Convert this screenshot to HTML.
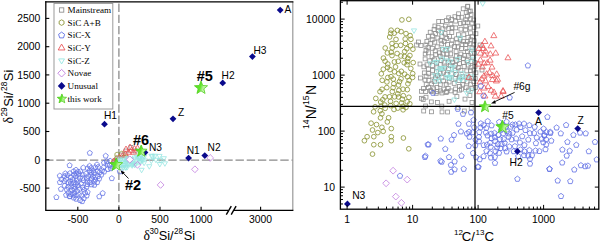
<!DOCTYPE html>
<html><head><meta charset="utf-8"><style>
html,body{margin:0;padding:0;background:#fff;}
svg{display:block;}
</style></head><body>
<svg width="600" height="242" viewBox="0 0 600 242">

<defs>
 <polygon id="pent" points="0.00,-2.85 2.71,-0.88 1.68,2.31 -1.68,2.31 -2.71,-0.88" fill="none" stroke="#5f6fe4" stroke-width="0.8"/>
 <polygon id="pentL" points="0.00,-2.70 2.57,-0.83 1.59,2.18 -1.59,2.18 -2.57,-0.83" fill="none" stroke="#6676e6" stroke-width="0.8"/>
 <polygon id="hexo" points="0.00,-2.50 2.17,-1.25 2.17,1.25 0.00,2.50 -2.17,1.25 -2.17,-1.25" fill="none" stroke="#8d9638" stroke-width="0.8"/>
 <circle id="circo" r="2.35" fill="none" stroke="#8d9638" stroke-width="0.85"/>
 <rect id="sq" x="-1.95" y="-1.95" width="3.9" height="3.9" fill="none" stroke="#909090" stroke-width="0.8"/>
 <polygon id="tri" points="0.00,-3.50 3.03,1.75 -3.03,1.75" fill="none" stroke="#ea5558" stroke-width="0.8"/>
 <polygon id="itri" points="0.00,3.00 -2.60,-1.50 2.60,-1.50" fill="none" stroke="#97e6e2" stroke-width="0.8"/>
 <polygon id="pdia" points="0,-3.4 3.4,0 0,3.4 -3.4,0" fill="none" stroke="#c27ee0" stroke-width="0.8"/>
 <polygon id="ndia" points="0,-3.4 3.4,0 0,3.4 -3.4,0" fill="#0a0a8c"/>
 <linearGradient id="sg" x1="0" y1="0" x2="1" y2="0.3">
  <stop offset="0" stop-color="#55e01e"/><stop offset="0.55" stop-color="#62e52c"/><stop offset="0.75" stop-color="#b8f29a"/><stop offset="1" stop-color="#d6f7c4"/>
 </linearGradient>
</defs>

<rect width="600" height="242" fill="#fff"/>
<line x1="45.8" y1="160.1" x2="292.8" y2="160.1" stroke="#8a8a8a" stroke-width="1.3" stroke-dasharray="8.4,2.8" stroke-dashoffset="0.7"/>
<line x1="118.9" y1="1.8" x2="118.9" y2="210.3" stroke="#8a8a8a" stroke-width="1.3" stroke-dasharray="8.4,2.8" stroke-dashoffset="-1.7"/>
<use href="#pentL" x="66.1" y="195.1"/><use href="#pentL" x="102.2" y="170.3"/><use href="#pentL" x="86.8" y="178.4"/><use href="#pentL" x="84.0" y="189.8"/><use href="#pentL" x="110.1" y="160.9"/><use href="#pentL" x="59.9" y="182.3"/><use href="#pentL" x="70.8" y="177.3"/><use href="#pentL" x="83.5" y="180.4"/><use href="#pentL" x="95.3" y="167.4"/><use href="#pentL" x="65.3" y="173.5"/><use href="#pentL" x="75.8" y="184.2"/><use href="#pentL" x="87.4" y="184.3"/><use href="#pentL" x="68.3" y="182.6"/><use href="#pentL" x="79.9" y="178.0"/><use href="#pentL" x="87.6" y="192.2"/><use href="#pentL" x="88.3" y="176.1"/><use href="#pentL" x="60.9" y="189.1"/><use href="#pentL" x="107.8" y="169.3"/><use href="#pentL" x="91.6" y="178.8"/><use href="#pentL" x="73.9" y="182.6"/><use href="#pentL" x="91.1" y="168.0"/><use href="#pentL" x="78.9" y="174.1"/><use href="#pentL" x="73.1" y="194.9"/><use href="#pentL" x="64.7" y="185.8"/><use href="#pentL" x="99.2" y="178.7"/><use href="#pentL" x="76.9" y="179.5"/><use href="#pentL" x="59.8" y="175.8"/><use href="#pentL" x="87.7" y="168.4"/><use href="#pentL" x="66.8" y="189.7"/><use href="#pentL" x="71.2" y="186.8"/><use href="#pentL" x="81.1" y="183.7"/><use href="#pentL" x="76.0" y="195.6"/><use href="#pentL" x="76.2" y="199.0"/><use href="#pentL" x="83.3" y="167.7"/><use href="#pentL" x="69.9" y="173.3"/><use href="#pentL" x="71.9" y="190.0"/><use href="#pentL" x="110.7" y="168.5"/><use href="#pentL" x="77.9" y="171.8"/><use href="#pentL" x="78.0" y="185.4"/><use href="#pentL" x="74.3" y="192.6"/><use href="#pentL" x="80.1" y="200.3"/><use href="#pentL" x="72.9" y="179.6"/><use href="#pentL" x="114.1" y="164.3"/><use href="#pentL" x="76.0" y="169.9"/><use href="#pentL" x="76.0" y="173.3"/><use href="#pentL" x="77.6" y="182.4"/><use href="#pentL" x="91.6" y="184.6"/><use href="#pentL" x="86.7" y="195.7"/><use href="#pentL" x="104.0" y="162.8"/><use href="#pentL" x="112.9" y="166.9"/><use href="#pentL" x="64.5" y="181.2"/><use href="#pentL" x="109.7" y="165.5"/><use href="#pentL" x="98.0" y="167.1"/><use href="#pentL" x="89.9" y="182.3"/><use href="#pentL" x="95.5" y="177.1"/><use href="#pentL" x="74.2" y="186.7"/><use href="#pentL" x="79.7" y="189.0"/><use href="#pentL" x="70.9" y="183.5"/><use href="#pentL" x="73.8" y="197.8"/><use href="#pentL" x="83.9" y="198.3"/><use href="#pentL" x="92.9" y="176.7"/><use href="#pentL" x="94.4" y="185.0"/><use href="#pentL" x="80.4" y="171.5"/><use href="#pentL" x="91.3" y="172.6"/><use href="#pentL" x="75.9" y="176.3"/><use href="#pentL" x="86.7" y="186.7"/><use href="#pentL" x="94.0" y="181.8"/><use href="#pentL" x="81.7" y="195.7"/><use href="#pentL" x="89.6" y="166.0"/><use href="#pentL" x="82.7" y="174.5"/><use href="#pentL" x="98.0" y="176.4"/><use href="#pentL" x="68.1" y="187.0"/><use href="#pentL" x="68.3" y="192.7"/><use href="#pentL" x="94.1" y="172.9"/><use href="#pentL" x="103.5" y="167.6"/><use href="#pentL" x="93.2" y="170.6"/><use href="#pentL" x="99.6" y="172.4"/><use href="#pentL" x="64.5" y="176.2"/><use href="#pentL" x="65.9" y="179.0"/><use href="#pentL" x="106.7" y="161.4"/><use href="#pentL" x="69.8" y="196.5"/><use href="#pentL" x="82.7" y="187.4"/><use href="#pentL" x="67.4" y="175.1"/><use href="#pentL" x="77.1" y="191.0"/><use href="#pentL" x="87.2" y="181.6"/><use href="#pentL" x="101.3" y="174.8"/><use href="#pentL" x="89.7" y="170.7"/><use href="#pentL" x="97.2" y="182.4"/><use href="#pentL" x="90.9" y="175.0"/><use href="#pentL" x="85.1" y="192.9"/><use href="#pentL" x="86.0" y="173.7"/><use href="#pentL" x="97.0" y="164.6"/><use href="#pentL" x="73.6" y="171.3"/><use href="#pentL" x="107.4" y="164.0"/><use href="#pentL" x="74.2" y="189.2"/><use href="#pentL" x="97.4" y="171.1"/><use href="#pentL" x="61.5" y="179.3"/><use href="#pentL" x="104.2" y="171.7"/><use href="#pentL" x="95.2" y="179.7"/><use href="#pentL" x="78.9" y="194.7"/><use href="#pentL" x="70.3" y="180.9"/><use href="#pentL" x="70.7" y="194.1"/><use href="#pentL" x="82.7" y="178.1"/><use href="#pentL" x="82.2" y="201.4"/><use href="#pentL" x="89.8" y="153.0"/><use href="#pentL" x="105.7" y="155.9"/><use href="#pentL" x="69.6" y="165.4"/><use href="#pentL" x="56.4" y="197.3"/><use href="#pentL" x="111.8" y="178.4"/><use href="#pentL" x="119.8" y="171.6"/><use href="#pentL" x="69.6" y="196.3"/><use href="#pentL" x="99.3" y="196.6"/><use href="#pentL" x="102.7" y="193.2"/><use href="#pentL" x="73.9" y="174.7"/>
<use href="#sq" x="131.0" y="147.5"/><use href="#sq" x="126.0" y="151.0"/><use href="#sq" x="121.0" y="155.0"/><use href="#sq" x="135.0" y="151.0"/>
<use href="#hexo" x="116.9" y="158.0"/><use href="#hexo" x="118.4" y="158.6"/><use href="#hexo" x="114.2" y="161.2"/><use href="#hexo" x="117.1" y="154.6"/><use href="#hexo" x="125.9" y="157.2"/><use href="#hexo" x="124.0" y="157.2"/><use href="#hexo" x="121.7" y="153.7"/>
<use href="#tri" x="113.5" y="161.5"/><use href="#tri" x="116.5" y="159.5"/><use href="#tri" x="119.5" y="157.5"/><use href="#tri" x="122.5" y="156.0"/><use href="#tri" x="125.5" y="154.5"/><use href="#tri" x="128.5" y="152.5"/><use href="#tri" x="131.5" y="150.5"/><use href="#tri" x="134.5" y="149.0"/><use href="#tri" x="126.0" y="149.5"/><use href="#tri" x="130.0" y="147.5"/><use href="#tri" x="121.0" y="159.5"/><use href="#tri" x="133.5" y="152.5"/><use href="#tri" x="137.5" y="148.5"/>
<polygon points="118,159 130,157 142,157 148,158 144,163 134,167 122,168 118,167" fill="#c4f3ee"/>
<use href="#itri" x="134.8" y="164.9"/><use href="#itri" x="118.8" y="161.6"/><use href="#itri" x="142.3" y="157.4"/><use href="#itri" x="130.7" y="159.0"/><use href="#itri" x="132.7" y="162.9"/><use href="#itri" x="118.4" y="158.6"/><use href="#itri" x="125.5" y="167.0"/><use href="#itri" x="138.7" y="157.9"/><use href="#itri" x="139.5" y="157.7"/><use href="#itri" x="134.7" y="157.5"/><use href="#itri" x="123.7" y="158.6"/><use href="#itri" x="125.8" y="167.5"/><use href="#itri" x="132.6" y="164.1"/><use href="#itri" x="123.5" y="167.3"/><use href="#itri" x="142.1" y="159.6"/><use href="#itri" x="127.8" y="158.0"/><use href="#itri" x="126.1" y="163.2"/><use href="#itri" x="127.1" y="159.7"/><use href="#itri" x="140.1" y="161.8"/><use href="#itri" x="126.5" y="161.8"/><use href="#itri" x="137.0" y="156.7"/><use href="#itri" x="144.3" y="156.3"/><use href="#itri" x="127.9" y="162.9"/><use href="#itri" x="122.9" y="167.5"/><use href="#itri" x="123.3" y="165.1"/><use href="#itri" x="127.3" y="160.3"/><use href="#itri" x="132.2" y="165.3"/><use href="#itri" x="120.9" y="165.0"/><use href="#itri" x="120.5" y="160.1"/><use href="#itri" x="127.2" y="167.1"/><use href="#itri" x="144.1" y="162.7"/><use href="#itri" x="155.9" y="159.7"/><use href="#itri" x="160.2" y="160.2"/><use href="#itri" x="152.6" y="156.3"/><use href="#itri" x="140.1" y="158.2"/><use href="#itri" x="164.9" y="163.3"/><use href="#itri" x="163.8" y="158.2"/><use href="#itri" x="151.3" y="160.7"/><use href="#itri" x="159.5" y="155.9"/><use href="#itri" x="151.5" y="155.7"/><use href="#itri" x="154.8" y="155.7"/><use href="#itri" x="159.8" y="164.0"/><use href="#itri" x="149.3" y="166.2"/><use href="#itri" x="141.6" y="169.8"/>
<polygon points="129.8,155.9 133.4,159.5 129.8,163.1 126.2,159.5" fill="#fff" stroke="#c27ee0" stroke-width="0.8"/>
<use href="#pdia" x="137.5" y="164.8"/><use href="#pdia" x="160.6" y="184.9"/><use href="#pdia" x="194.9" y="169.3"/><use href="#pdia" x="210.2" y="157.9"/>
<use href="#ndia" x="280.2" y="10.1"/><use href="#ndia" x="252.4" y="56.6"/><use href="#ndia" x="222.7" y="82.9"/><use href="#ndia" x="173.0" y="118.8"/><use href="#ndia" x="104.5" y="124.2"/><use href="#ndia" x="188.6" y="158.1"/><use href="#ndia" x="204.8" y="155.6"/><use href="#ndia" x="145.0" y="152.4"/>
<path d="M201.00,81.00 L202.74,85.50 L207.56,85.77 L203.82,88.82 L205.06,93.48 L201.00,90.87 L196.94,93.48 L198.18,88.82 L194.44,85.77 L199.26,85.50 Z" fill="url(#sg)" stroke="#4fcf1a" stroke-width="0.8" stroke-linejoin="miter"/>
<path d="M141.20,145.00 L142.77,149.04 L147.10,149.28 L143.74,152.02 L144.84,156.22 L141.20,153.87 L137.56,156.22 L138.66,152.02 L135.30,149.28 L139.63,149.04 Z" fill="url(#sg)" stroke="#4fcf1a" stroke-width="0.8" stroke-linejoin="miter"/>
<path d="M116.20,158.00 L117.92,162.43 L122.67,162.70 L118.98,165.70 L120.20,170.30 L116.20,167.72 L112.20,170.30 L113.42,165.70 L109.73,162.70 L114.48,162.43 Z" fill="url(#sg)" stroke="#4fcf1a" stroke-width="0.8" stroke-linejoin="miter"/>
<text x="284.4" y="12.6" font-family="Liberation Sans" font-size="10.2" font-weight="normal" text-anchor="start" fill="#000" >A</text>
<text x="253.4" y="54.0" font-family="Liberation Sans" font-size="10.2" font-weight="normal" text-anchor="start" fill="#000" >H3</text>
<text x="221.6" y="78.8" font-family="Liberation Sans" font-size="10.2" font-weight="normal" text-anchor="start" fill="#000" >H2</text>
<text x="178.0" y="115.9" font-family="Liberation Sans" font-size="10.2" font-weight="normal" text-anchor="start" fill="#000" >Z</text>
<text x="104.0" y="118.5" font-family="Liberation Sans" font-size="10.2" font-weight="normal" text-anchor="start" fill="#000" >H1</text>
<text x="186.7" y="153.8" font-family="Liberation Sans" font-size="10.2" font-weight="normal" text-anchor="start" fill="#000" >N1</text>
<text x="207.6" y="150.6" font-family="Liberation Sans" font-size="10.2" font-weight="normal" text-anchor="start" fill="#000" >N2</text>
<text x="149.0" y="151.0" font-family="Liberation Sans" font-size="10.2" font-weight="normal" text-anchor="start" fill="#000" >N3</text>
<text x="196.8" y="80.6" font-family="Liberation Sans" font-size="14.5" font-weight="bold" text-anchor="start" fill="#000" >#5</text>
<text x="133.0" y="145.3" font-family="Liberation Sans" font-size="14.5" font-weight="bold" text-anchor="start" fill="#000" >#6</text>
<text x="125.0" y="189.9" font-family="Liberation Sans" font-size="14.5" font-weight="bold" text-anchor="start" fill="#000" >#2</text>
<line x1="128.5" y1="178.5" x2="122.5" y2="172.3" stroke="#000" stroke-width="0.9"/>
<polygon points="120.6,170.4 124.9,172.3 122.3,174.6" fill="#000"/>
<line x1="292.8" y1="1.8" x2="292.8" y2="210.3" stroke="#999" stroke-width="1.2"/>
<line x1="45.2" y1="1.8" x2="293.4" y2="1.8" stroke="#000" stroke-width="1.2"/>
<line x1="45.8" y1="1.2" x2="45.8" y2="210.9" stroke="#000" stroke-width="1.3"/>
<line x1="45.8" y1="210.3" x2="293.4" y2="210.3" stroke="#000" stroke-width="1.3"/>
<rect x="228.2" y="208" width="5.6" height="5" fill="#fff"/>
<line x1="226.3" y1="214.6" x2="231.3" y2="206.2" stroke="#000" stroke-width="1.4"/>
<line x1="231.2" y1="214.6" x2="236.1" y2="206.2" stroke="#000" stroke-width="1.4"/>
<line x1="45.8" y1="18.4" x2="49.3" y2="18.4" stroke="#000" stroke-width="1.1"/>
<text x="40.4" y="22.1" font-family="Liberation Sans" font-size="10.4" font-weight="normal" text-anchor="end" fill="#000" >2500</text>
<line x1="45.8" y1="46.7" x2="49.3" y2="46.7" stroke="#000" stroke-width="1.1"/>
<text x="40.4" y="50.4" font-family="Liberation Sans" font-size="10.4" font-weight="normal" text-anchor="end" fill="#000" >2000</text>
<line x1="45.8" y1="74.9" x2="49.3" y2="74.9" stroke="#000" stroke-width="1.1"/>
<text x="40.4" y="78.6" font-family="Liberation Sans" font-size="10.4" font-weight="normal" text-anchor="end" fill="#000" >1500</text>
<line x1="45.8" y1="103.2" x2="49.3" y2="103.2" stroke="#000" stroke-width="1.1"/>
<text x="40.4" y="106.9" font-family="Liberation Sans" font-size="10.4" font-weight="normal" text-anchor="end" fill="#000" >1000</text>
<line x1="45.8" y1="131.5" x2="49.3" y2="131.5" stroke="#000" stroke-width="1.1"/>
<text x="40.4" y="135.2" font-family="Liberation Sans" font-size="10.4" font-weight="normal" text-anchor="end" fill="#000" >500</text>
<line x1="45.8" y1="159.8" x2="49.3" y2="159.8" stroke="#000" stroke-width="1.1"/>
<text x="40.4" y="163.5" font-family="Liberation Sans" font-size="10.4" font-weight="normal" text-anchor="end" fill="#000" >0</text>
<line x1="45.8" y1="188.1" x2="49.3" y2="188.1" stroke="#000" stroke-width="1.1"/>
<text x="40.4" y="191.8" font-family="Liberation Sans" font-size="10.4" font-weight="normal" text-anchor="end" fill="#000" >-500</text>
<line x1="77.8" y1="210.3" x2="77.8" y2="206.8" stroke="#000" stroke-width="1.1"/>
<text x="77.8" y="223.3" font-family="Liberation Sans" font-size="10.4" font-weight="normal" text-anchor="middle" fill="#000" >-500</text>
<line x1="118.9" y1="210.3" x2="118.9" y2="206.8" stroke="#000" stroke-width="1.1"/>
<text x="118.9" y="223.3" font-family="Liberation Sans" font-size="10.4" font-weight="normal" text-anchor="middle" fill="#000" >0</text>
<line x1="160.0" y1="210.3" x2="160.0" y2="206.8" stroke="#000" stroke-width="1.1"/>
<text x="160.0" y="223.3" font-family="Liberation Sans" font-size="10.4" font-weight="normal" text-anchor="middle" fill="#000" >500</text>
<line x1="201.1" y1="210.3" x2="201.1" y2="206.8" stroke="#000" stroke-width="1.1"/>
<text x="201.1" y="223.3" font-family="Liberation Sans" font-size="10.4" font-weight="normal" text-anchor="middle" fill="#000" >1000</text>
<line x1="260.6" y1="210.3" x2="260.6" y2="206.8" stroke="#000" stroke-width="1.1"/>
<text x="260.6" y="223.3" font-family="Liberation Sans" font-size="10.4" font-weight="normal" text-anchor="middle" fill="#000" >3000</text>
<text transform="translate(143.6,239.7) scale(0.97,1)" x="0" y="0" font-family="Liberation Sans" font-size="13.2" fill="#000"><tspan font-family="Liberation Serif" font-size="14.2">&#948;</tspan><tspan font-size="8.4" dy="-6" dx="-0.6">30</tspan><tspan dy="6" dx="0.1">Si/</tspan><tspan font-size="8.4" dy="-6" dx="0.5">28</tspan><tspan dy="6" dx="0.6">Si</tspan></text>
<text transform="translate(12.9,123.4) rotate(-90) scale(0.985,1)" x="0" y="0" font-family="Liberation Sans" font-size="13.2" fill="#000"><tspan font-family="Liberation Serif" font-size="14.2">&#948;</tspan><tspan font-size="8.4" dy="-6" dx="0.2">29</tspan><tspan dy="6" dx="0.6">Si/</tspan><tspan font-size="8.4" dy="-6" dx="0.8">28</tspan><tspan dy="6" dx="0.4">Si</tspan></text>
<rect x="54" y="3.4" width="58.8" height="105.6" fill="#fff" stroke="#9a9a9a" stroke-width="1"/>
<use href="#sq" transform="translate(61.6,10.0) scale(1.12)"/>
<text x="67.6" y="13.1" font-family="Liberation Serif" font-size="9.1" font-weight="normal" text-anchor="start" fill="#000" >Mainstream</text>
<use href="#hexo" transform="translate(61.6,22.6) scale(1.12)"/>
<text x="67.6" y="25.8" font-family="Liberation Serif" font-size="9.1" font-weight="normal" text-anchor="start" fill="#000" >SiC A+B</text>
<use href="#pent" transform="translate(61.6,35.3) scale(1.12)"/>
<text x="67.6" y="38.4" font-family="Liberation Serif" font-size="9.1" font-weight="normal" text-anchor="start" fill="#000" >SiC-X</text>
<use href="#tri" transform="translate(61.6,48.0) scale(1.12)"/>
<text x="67.6" y="51.1" font-family="Liberation Serif" font-size="9.1" font-weight="normal" text-anchor="start" fill="#000" >SiC-Y</text>
<use href="#itri" transform="translate(61.6,60.6) scale(1.12)"/>
<text x="67.6" y="63.7" font-family="Liberation Serif" font-size="9.1" font-weight="normal" text-anchor="start" fill="#000" >SiC-Z</text>
<use href="#pdia" transform="translate(61.6,73.2) scale(1.12)"/>
<text x="67.6" y="76.3" font-family="Liberation Serif" font-size="9.1" font-weight="normal" text-anchor="start" fill="#000" >Novae</text>
<use href="#ndia" transform="translate(61.6,85.9) scale(1.12)"/>
<text x="67.6" y="89.0" font-family="Liberation Serif" font-size="9.1" font-weight="normal" text-anchor="start" fill="#000" >Unusual</text>
<path d="M61.90,93.95 L63.14,97.15 L66.56,97.34 L63.90,99.50 L64.78,102.81 L61.90,100.96 L59.02,102.81 L59.90,99.50 L57.24,97.34 L60.66,97.15 Z" fill="url(#sg)" stroke="#4fcf1a" stroke-width="0.8" stroke-linejoin="miter"/>
<text x="67.6" y="101.6" font-family="Liberation Serif" font-size="9.1" font-weight="normal" text-anchor="start" fill="#000" >this work</text>
<use href="#circo" x="391.0" y="76.7"/><use href="#circo" x="410.8" y="68.5"/><use href="#circo" x="393.3" y="79.1"/><use href="#circo" x="398.5" y="97.0"/><use href="#circo" x="375.8" y="98.4"/><use href="#circo" x="401.1" y="31.6"/><use href="#circo" x="399.5" y="81.6"/><use href="#circo" x="394.2" y="33.2"/><use href="#circo" x="390.5" y="101.3"/><use href="#circo" x="393.8" y="83.7"/><use href="#circo" x="391.2" y="52.2"/><use href="#circo" x="407.3" y="89.6"/><use href="#circo" x="385.2" y="48.0"/><use href="#circo" x="404.2" y="62.8"/><use href="#circo" x="407.6" y="61.6"/><use href="#circo" x="413.2" y="62.6"/><use href="#circo" x="404.7" y="51.5"/><use href="#circo" x="405.5" y="43.5"/><use href="#circo" x="395.5" y="66.9"/><use href="#circo" x="380.0" y="91.7"/><use href="#circo" x="384.8" y="105.0"/><use href="#circo" x="407.9" y="83.8"/><use href="#circo" x="404.5" y="56.6"/><use href="#circo" x="382.2" y="80.3"/><use href="#circo" x="387.6" y="67.4"/><use href="#circo" x="396.1" y="103.4"/><use href="#circo" x="403.1" y="109.8"/><use href="#circo" x="380.3" y="110.7"/><use href="#circo" x="409.1" y="80.5"/><use href="#circo" x="389.7" y="37.0"/><use href="#circo" x="373.6" y="111.8"/><use href="#circo" x="382.0" y="89.3"/><use href="#circo" x="382.8" y="99.7"/><use href="#circo" x="397.1" y="53.5"/><use href="#circo" x="410.5" y="45.7"/><use href="#circo" x="390.7" y="33.3"/><use href="#circo" x="396.0" y="39.4"/><use href="#circo" x="401.0" y="78.8"/><use href="#circo" x="392.3" y="91.6"/><use href="#circo" x="403.0" y="106.3"/><use href="#circo" x="403.0" y="89.2"/><use href="#circo" x="386.8" y="87.6"/><use href="#circo" x="409.8" y="103.8"/><use href="#circo" x="389.5" y="96.8"/><use href="#circo" x="398.2" y="61.3"/><use href="#circo" x="392.2" y="48.0"/><use href="#circo" x="401.3" y="71.3"/><use href="#circo" x="397.8" y="108.1"/><use href="#circo" x="390.6" y="105.6"/><use href="#circo" x="405.9" y="107.5"/><use href="#circo" x="407.2" y="101.8"/><use href="#circo" x="385.0" y="96.9"/><use href="#circo" x="391.1" y="30.2"/><use href="#circo" x="406.8" y="48.7"/><use href="#circo" x="398.5" y="85.0"/><use href="#circo" x="400.7" y="45.3"/><use href="#circo" x="392.0" y="43.5"/><use href="#circo" x="383.4" y="58.1"/><use href="#circo" x="397.8" y="93.8"/><use href="#circo" x="410.1" y="35.6"/><use href="#circo" x="387.8" y="77.5"/><use href="#circo" x="408.9" y="97.3"/><use href="#circo" x="402.3" y="99.2"/><use href="#circo" x="398.9" y="90.4"/><use href="#circo" x="381.0" y="106.3"/><use href="#circo" x="394.6" y="96.8"/><use href="#circo" x="407.9" y="58.3"/><use href="#circo" x="406.0" y="33.6"/><use href="#circo" x="381.3" y="73.8"/><use href="#circo" x="398.8" y="73.5"/><use href="#circo" x="407.4" y="76.7"/><use href="#circo" x="385.1" y="61.2"/><use href="#circo" x="380.7" y="102.0"/><use href="#circo" x="412.7" y="73.6"/><use href="#circo" x="396.1" y="45.5"/><use href="#circo" x="394.5" y="71.8"/><use href="#circo" x="397.4" y="30.4"/><use href="#circo" x="383.3" y="69.2"/><use href="#circo" x="392.0" y="55.6"/><use href="#circo" x="410.9" y="39.3"/><use href="#circo" x="400.9" y="56.0"/><use href="#circo" x="386.9" y="81.9"/><use href="#circo" x="387.8" y="64.0"/><use href="#circo" x="409.9" y="55.5"/><use href="#circo" x="385.2" y="108.3"/><use href="#circo" x="407.0" y="64.7"/><use href="#circo" x="405.2" y="39.0"/><use href="#circo" x="393.1" y="87.7"/><use href="#circo" x="401.6" y="102.9"/><use href="#circo" x="403.3" y="95.7"/><use href="#circo" x="394.4" y="61.9"/><use href="#circo" x="412.6" y="77.4"/><use href="#circo" x="387.4" y="52.9"/><use href="#circo" x="375.1" y="106.8"/><use href="#circo" x="390.0" y="69.6"/><use href="#circo" x="412.9" y="49.2"/><use href="#circo" x="394.0" y="109.5"/><use href="#circo" x="404.7" y="74.2"/><use href="#circo" x="401.9" y="19.9"/><use href="#circo" x="408.8" y="19.3"/><use href="#circo" x="381.9" y="113.8"/><use href="#circo" x="388.6" y="117.8"/><use href="#circo" x="380.5" y="117.8"/><use href="#circo" x="387.3" y="121.9"/><use href="#circo" x="371.1" y="123.2"/><use href="#circo" x="376.5" y="124.6"/><use href="#circo" x="381.9" y="127.3"/><use href="#circo" x="391.3" y="128.6"/><use href="#circo" x="372.5" y="130.0"/><use href="#circo" x="377.8" y="132.6"/><use href="#circo" x="367.1" y="136.7"/><use href="#circo" x="373.8" y="136.7"/><use href="#circo" x="383.2" y="131.3"/><use href="#circo" x="364.4" y="140.7"/><use href="#circo" x="391.3" y="136.7"/><use href="#circo" x="391.3" y="140.7"/><use href="#circo" x="403.4" y="138.0"/><use href="#circo" x="373.8" y="144.7"/><use href="#circo" x="380.5" y="144.7"/><use href="#circo" x="408.8" y="148.8"/><use href="#circo" x="372.5" y="154.1"/>
<use href="#sq" x="448.2" y="62.2"/><use href="#sq" x="458.3" y="17.4"/><use href="#sq" x="437.5" y="75.5"/><use href="#sq" x="459.6" y="57.3"/><use href="#sq" x="452.6" y="62.5"/><use href="#sq" x="430.7" y="43.3"/><use href="#sq" x="431.6" y="83.8"/><use href="#sq" x="426.1" y="76.2"/><use href="#sq" x="427.0" y="64.8"/><use href="#sq" x="440.9" y="40.2"/><use href="#sq" x="467.6" y="6.6"/><use href="#sq" x="426.2" y="84.6"/><use href="#sq" x="475.3" y="87.4"/><use href="#sq" x="430.2" y="32.2"/><use href="#sq" x="432.1" y="76.0"/><use href="#sq" x="444.2" y="41.4"/><use href="#sq" x="454.6" y="46.5"/><use href="#sq" x="461.5" y="89.2"/><use href="#sq" x="474.7" y="62.7"/><use href="#sq" x="441.9" y="36.6"/><use href="#sq" x="459.6" y="63.6"/><use href="#sq" x="442.3" y="49.5"/><use href="#sq" x="465.9" y="48.5"/><use href="#sq" x="445.8" y="50.2"/><use href="#sq" x="434.8" y="42.2"/><use href="#sq" x="443.6" y="72.2"/><use href="#sq" x="428.4" y="52.8"/><use href="#sq" x="432.4" y="65.5"/><use href="#sq" x="441.2" y="60.4"/><use href="#sq" x="425.8" y="45.0"/><use href="#sq" x="434.1" y="29.5"/><use href="#sq" x="448.2" y="88.4"/><use href="#sq" x="442.3" y="21.5"/><use href="#sq" x="462.7" y="84.3"/><use href="#sq" x="463.8" y="34.7"/><use href="#sq" x="425.1" y="58.9"/><use href="#sq" x="467.1" y="60.6"/><use href="#sq" x="435.2" y="50.9"/><use href="#sq" x="436.9" y="87.4"/><use href="#sq" x="470.4" y="19.1"/><use href="#sq" x="438.4" y="81.0"/><use href="#sq" x="450.3" y="65.5"/><use href="#sq" x="460.3" y="23.6"/><use href="#sq" x="438.1" y="27.2"/><use href="#sq" x="445.3" y="26.0"/><use href="#sq" x="471.8" y="88.7"/><use href="#sq" x="463.3" y="41.3"/><use href="#sq" x="454.2" y="83.4"/><use href="#sq" x="464.8" y="55.5"/><use href="#sq" x="423.9" y="66.8"/><use href="#sq" x="470.9" y="74.4"/><use href="#sq" x="470.6" y="84.2"/><use href="#sq" x="451.4" y="73.7"/><use href="#sq" x="441.7" y="32.2"/><use href="#sq" x="451.7" y="59.1"/><use href="#sq" x="460.1" y="39.3"/><use href="#sq" x="440.2" y="64.6"/><use href="#sq" x="463.3" y="62.4"/><use href="#sq" x="472.5" y="36.8"/><use href="#sq" x="446.5" y="20.6"/><use href="#sq" x="458.4" y="34.7"/><use href="#sq" x="435.6" y="33.5"/><use href="#sq" x="455.1" y="78.3"/><use href="#sq" x="468.3" y="77.4"/><use href="#sq" x="474.5" y="53.2"/><use href="#sq" x="449.5" y="36.4"/><use href="#sq" x="465.6" y="29.8"/><use href="#sq" x="472.6" y="57.1"/><use href="#sq" x="443.6" y="81.0"/><use href="#sq" x="470.6" y="32.9"/><use href="#sq" x="429.7" y="60.8"/><use href="#sq" x="455.7" y="27.9"/><use href="#sq" x="465.8" y="19.8"/><use href="#sq" x="442.0" y="68.9"/><use href="#sq" x="434.2" y="81.5"/><use href="#sq" x="438.7" y="21.5"/><use href="#sq" x="451.4" y="44.0"/><use href="#sq" x="456.6" y="38.8"/><use href="#sq" x="460.9" y="29.2"/><use href="#sq" x="472.0" y="47.8"/><use href="#sq" x="468.3" y="65.1"/><use href="#sq" x="455.2" y="70.6"/><use href="#sq" x="467.5" y="16.2"/><use href="#sq" x="455.6" y="89.0"/><use href="#sq" x="473.9" y="70.0"/><use href="#sq" x="451.8" y="32.5"/><use href="#sq" x="448.6" y="68.6"/><use href="#sq" x="466.8" y="70.9"/><use href="#sq" x="456.1" y="51.6"/><use href="#sq" x="428.4" y="69.1"/><use href="#sq" x="475.9" y="33.7"/><use href="#sq" x="432.2" y="39.8"/><use href="#sq" x="458.6" y="13.8"/><use href="#sq" x="456.8" y="60.4"/><use href="#sq" x="473.8" y="44.9"/><use href="#sq" x="460.9" y="70.4"/><use href="#sq" x="461.5" y="48.6"/><use href="#sq" x="443.7" y="89.1"/><use href="#sq" x="467.3" y="41.6"/><use href="#sq" x="471.0" y="14.4"/><use href="#sq" x="455.7" y="21.1"/><use href="#sq" x="457.1" y="42.9"/><use href="#sq" x="450.7" y="53.9"/><use href="#sq" x="467.9" y="37.4"/><use href="#sq" x="458.9" y="80.6"/><use href="#sq" x="454.9" y="16.7"/><use href="#sq" x="468.6" y="90.1"/><use href="#sq" x="462.8" y="76.7"/><use href="#sq" x="428.0" y="47.6"/><use href="#sq" x="445.0" y="33.3"/><use href="#sq" x="451.1" y="90.9"/><use href="#sq" x="475.9" y="72.8"/><use href="#sq" x="446.2" y="84.3"/><use href="#sq" x="473.8" y="81.7"/><use href="#sq" x="458.0" y="46.8"/><use href="#sq" x="464.1" y="66.4"/><use href="#sq" x="475.2" y="78.6"/><use href="#sq" x="440.4" y="90.9"/><use href="#sq" x="433.6" y="88.8"/><use href="#sq" x="471.4" y="61.6"/><use href="#sq" x="451.7" y="19.5"/><use href="#sq" x="440.2" y="56.1"/><use href="#sq" x="455.3" y="65.3"/><use href="#sq" x="461.9" y="17.2"/><use href="#sq" x="467.5" y="51.6"/><use href="#sq" x="436.9" y="67.7"/><use href="#sq" x="432.0" y="56.8"/><use href="#sq" x="436.6" y="71.8"/><use href="#sq" x="432.4" y="48.3"/><use href="#sq" x="468.2" y="55.3"/><use href="#sq" x="452.0" y="40.2"/><use href="#sq" x="456.3" y="56.0"/><use href="#sq" x="428.5" y="87.5"/><use href="#sq" x="460.9" y="54.0"/><use href="#sq" x="446.7" y="74.5"/><use href="#sq" x="472.0" y="23.1"/><use href="#sq" x="466.2" y="12.5"/><use href="#sq" x="423.5" y="88.6"/><use href="#sq" x="470.2" y="43.8"/><use href="#sq" x="442.8" y="54.0"/><use href="#sq" x="437.2" y="46.8"/><use href="#sq" x="470.4" y="28.0"/><use href="#sq" x="474.0" y="27.3"/><use href="#sq" x="446.5" y="58.2"/><use href="#sq" x="434.9" y="26.0"/><use href="#sq" x="450.9" y="24.4"/><use href="#sq" x="444.9" y="67.1"/><use href="#sq" x="456.3" y="74.6"/><use href="#sq" x="449.4" y="78.1"/><use href="#sq" x="442.0" y="77.2"/><use href="#sq" x="446.7" y="91.4"/><use href="#sq" x="425.0" y="80.0"/><use href="#sq" x="473.7" y="20.0"/><use href="#sq" x="439.6" y="52.8"/><use href="#sq" x="470.5" y="70.7"/><use href="#sq" x="465.8" y="26.1"/><use href="#sq" x="447.5" y="44.4"/><use href="#sq" x="471.0" y="67.2"/><use href="#sq" x="434.5" y="59.8"/><use href="#sq" x="448.7" y="17.8"/><use href="#sq" x="458.3" y="67.8"/><use href="#sq" x="428.3" y="36.3"/><use href="#sq" x="448.7" y="28.4"/><use href="#sq" x="432.6" y="70.4"/><use href="#sq" x="450.4" y="49.1"/><use href="#sq" x="440.2" y="73.1"/><use href="#sq" x="436.7" y="62.7"/><use href="#sq" x="437.8" y="38.0"/><use href="#sq" x="442.9" y="28.7"/><use href="#sq" x="467.1" y="81.9"/><use href="#sq" x="438.3" y="30.8"/><use href="#sq" x="425.2" y="53.9"/><use href="#sq" x="428.7" y="73.4"/><use href="#sq" x="459.5" y="86.4"/><use href="#sq" x="446.7" y="38.4"/><use href="#sq" x="449.1" y="82.0"/><use href="#sq" x="440.3" y="84.4"/><use href="#sq" x="459.4" y="77.0"/><use href="#sq" x="426.0" y="50.4"/><use href="#sq" x="444.2" y="62.1"/><use href="#sq" x="466.2" y="87.7"/><use href="#sq" x="475.0" y="66.2"/><use href="#sq" x="462.1" y="44.5"/><use href="#sq" x="463.2" y="8.8"/><use href="#sq" x="428.9" y="80.4"/><use href="#sq" x="452.0" y="27.6"/><use href="#sq" x="424.3" y="72.9"/><use href="#sq" x="437.0" y="91.5"/><use href="#sq" x="470.9" y="53.2"/><use href="#sq" x="435.6" y="54.7"/><use href="#sq" x="447.2" y="53.9"/><use href="#sq" x="426.9" y="41.5"/><use href="#sq" x="474.1" y="40.8"/><use href="#sq" x="467.4" y="22.7"/><use href="#sq" x="463.2" y="80.8"/><use href="#sq" x="463.4" y="58.8"/><use href="#sq" x="465.5" y="44.5"/><use href="#sq" x="471.7" y="78.4"/><use href="#sq" x="430.7" y="90.6"/><use href="#sq" x="435.3" y="78.0"/><use href="#sq" x="432.7" y="36.1"/><use href="#sq" x="470.3" y="11.0"/><use href="#sq" x="470.8" y="39.8"/><use href="#sq" x="441.7" y="43.9"/><use href="#sq" x="463.7" y="22.8"/><use href="#sq" x="418.5" y="42.0"/><use href="#sq" x="421.0" y="45.5"/><use href="#sq" x="420.0" y="64.0"/><use href="#sq" x="420.5" y="78.0"/><use href="#sq" x="421.5" y="91.3"/><use href="#sq" x="423.2" y="99.5"/><use href="#sq" x="457.9" y="107.3"/><use href="#sq" x="449.1" y="101.3"/><use href="#sq" x="442.0" y="111.9"/><use href="#sq" x="436.2" y="93.3"/><use href="#sq" x="426.0" y="97.2"/><use href="#sq" x="437.4" y="102.5"/><use href="#sq" x="431.3" y="91.6"/><use href="#sq" x="431.3" y="101.9"/><use href="#sq" x="441.8" y="106.1"/><use href="#sq" x="465.0" y="99.1"/><use href="#sq" x="425.6" y="106.0"/><use href="#sq" x="456.9" y="96.6"/><use href="#sq" x="471.2" y="108.3"/><use href="#sq" x="464.3" y="111.0"/><use href="#sq" x="441.9" y="93.0"/><use href="#sq" x="455.1" y="92.3"/><use href="#sq" x="459.5" y="90.2"/><use href="#sq" x="469.9" y="95.4"/><use href="#sq" x="421.4" y="98.3"/><use href="#sq" x="425.7" y="91.5"/><use href="#sq" x="446.2" y="92.5"/><use href="#sq" x="472.0" y="102.5"/><use href="#sq" x="477.8" y="26.0"/><use href="#sq" x="480.0" y="45.0"/><use href="#sq" x="482.0" y="70.0"/><use href="#sq" x="416.6" y="45.0"/><use href="#sq" x="423.7" y="111.0"/><use href="#sq" x="431.5" y="111.8"/><use href="#sq" x="447.6" y="112.0"/><use href="#sq" x="467.8" y="6.2"/><use href="#sq" x="469.0" y="11.4"/>
<use href="#itri" x="439.8" y="75.6"/><use href="#itri" x="456.0" y="80.5"/><use href="#itri" x="437.1" y="61.9"/><use href="#itri" x="435.6" y="61.8"/><use href="#itri" x="457.9" y="58.9"/><use href="#itri" x="450.2" y="61.4"/><use href="#itri" x="441.2" y="67.9"/><use href="#itri" x="461.8" y="73.3"/><use href="#itri" x="430.5" y="63.3"/><use href="#itri" x="435.6" y="81.1"/><use href="#itri" x="460.8" y="79.2"/><use href="#itri" x="461.4" y="77.3"/><use href="#itri" x="466.1" y="78.8"/><use href="#itri" x="439.8" y="80.5"/><use href="#itri" x="448.5" y="77.7"/><use href="#itri" x="451.4" y="67.9"/><use href="#itri" x="443.8" y="67.9"/><use href="#itri" x="441.9" y="58.5"/><use href="#itri" x="461.1" y="78.9"/><use href="#itri" x="467.5" y="75.7"/><use href="#itri" x="451.1" y="77.5"/><use href="#itri" x="435.1" y="75.3"/><use href="#itri" x="446.8" y="60.3"/><use href="#itri" x="437.7" y="70.7"/><use href="#itri" x="439.6" y="68.8"/><use href="#itri" x="453.0" y="66.9"/><use href="#itri" x="471.7" y="76.5"/><use href="#itri" x="466.8" y="92.8"/><use href="#itri" x="449.1" y="72.7"/><use href="#itri" x="471.7" y="90.4"/><use href="#itri" x="460.1" y="37.7"/><use href="#itri" x="454.4" y="99.5"/><use href="#itri" x="443.6" y="48.9"/><use href="#itri" x="473.3" y="58.7"/><use href="#itri" x="447.3" y="48.8"/><use href="#itri" x="471.8" y="50.2"/><use href="#itri" x="455.0" y="72.1"/><use href="#itri" x="468.2" y="61.9"/><use href="#itri" x="442.9" y="68.0"/><use href="#itri" x="441.2" y="32.1"/><use href="#itri" x="446.7" y="77.0"/><use href="#itri" x="449.9" y="76.8"/><use href="#itri" x="482.7" y="3.3"/><use href="#itri" x="414.0" y="30.4"/>
<use href="#tri" x="480.0" y="82.2"/><use href="#tri" x="495.3" y="96.4"/><use href="#tri" x="484.6" y="55.3"/><use href="#tri" x="497.6" y="79.5"/><use href="#tri" x="485.5" y="81.1"/><use href="#tri" x="488.1" y="86.7"/><use href="#tri" x="480.3" y="53.4"/><use href="#tri" x="484.3" y="88.3"/><use href="#tri" x="492.4" y="79.8"/><use href="#tri" x="481.6" y="79.1"/><use href="#tri" x="480.4" y="60.2"/><use href="#tri" x="494.0" y="92.4"/><use href="#tri" x="482.1" y="45.7"/><use href="#tri" x="482.4" y="67.2"/><use href="#tri" x="491.0" y="46.1"/><use href="#tri" x="484.9" y="41.7"/><use href="#tri" x="492.0" y="67.3"/><use href="#tri" x="490.3" y="54.2"/><use href="#tri" x="501.2" y="96.3"/><use href="#tri" x="478.9" y="48.6"/><use href="#tri" x="496.7" y="74.3"/><use href="#tri" x="486.7" y="74.2"/><use href="#tri" x="485.5" y="51.3"/><use href="#tri" x="484.2" y="63.3"/><use href="#tri" x="484.9" y="96.2"/><use href="#tri" x="484.0" y="76.2"/><use href="#tri" x="492.7" y="75.8"/><use href="#tri" x="491.2" y="90.5"/><use href="#tri" x="487.3" y="63.0"/><use href="#tri" x="490.1" y="60.4"/><use href="#tri" x="489.5" y="72.7"/><use href="#tri" x="483.2" y="48.8"/><use href="#tri" x="495.7" y="53.3"/><use href="#tri" x="478.3" y="64.4"/><use href="#tri" x="503.1" y="91.8"/><use href="#tri" x="479.7" y="92.0"/><use href="#tri" x="493.8" y="35.9"/><use href="#tri" x="508.0" y="58.0"/><use href="#tri" x="503.0" y="91.0"/><use href="#tri" x="496.4" y="81.2"/><use href="#tri" x="469.0" y="77.5"/>
<use href="#pent" x="502.6" y="124.6"/><use href="#pent" x="509.3" y="146.6"/><use href="#pent" x="479.3" y="132.2"/><use href="#pent" x="501.3" y="129.8"/><use href="#pent" x="480.4" y="127.6"/><use href="#pent" x="505.5" y="127.4"/><use href="#pent" x="511.5" y="139.5"/><use href="#pent" x="478.9" y="137.1"/><use href="#pent" x="487.7" y="121.3"/><use href="#pent" x="494.5" y="133.1"/><use href="#pent" x="494.8" y="157.1"/><use href="#pent" x="498.3" y="135.0"/><use href="#pent" x="491.0" y="157.7"/><use href="#pent" x="468.9" y="123.9"/><use href="#pent" x="476.1" y="157.4"/><use href="#pent" x="500.5" y="148.2"/><use href="#pent" x="473.5" y="120.0"/><use href="#pent" x="490.0" y="153.3"/><use href="#pent" x="491.6" y="125.5"/><use href="#pent" x="512.6" y="132.9"/><use href="#pent" x="506.8" y="131.4"/><use href="#pent" x="491.1" y="133.8"/><use href="#pent" x="512.4" y="124.7"/><use href="#pent" x="491.5" y="138.2"/><use href="#pent" x="494.8" y="137.4"/><use href="#pent" x="504.6" y="142.9"/><use href="#pent" x="483.7" y="145.2"/><use href="#pent" x="485.9" y="132.6"/><use href="#pent" x="497.1" y="147.6"/><use href="#pent" x="506.6" y="151.6"/><use href="#pent" x="468.7" y="146.1"/><use href="#pent" x="479.7" y="159.4"/><use href="#pent" x="483.6" y="156.3"/><use href="#pent" x="473.1" y="153.1"/><use href="#pent" x="472.6" y="132.4"/><use href="#pent" x="486.5" y="151.1"/><use href="#pent" x="475.3" y="145.5"/><use href="#pent" x="495.2" y="141.1"/><use href="#pent" x="503.3" y="133.5"/><use href="#pent" x="479.0" y="141.4"/><use href="#pent" x="480.8" y="123.5"/><use href="#pent" x="505.3" y="148.3"/><use href="#pent" x="487.6" y="135.6"/><use href="#pent" x="509.2" y="133.6"/><use href="#pent" x="490.0" y="143.0"/><use href="#pent" x="469.1" y="132.0"/><use href="#pent" x="469.4" y="136.9"/><use href="#pent" x="487.0" y="144.7"/><use href="#pent" x="503.7" y="139.2"/><use href="#pent" x="508.6" y="136.9"/><use href="#pent" x="499.2" y="122.1"/><use href="#pent" x="474.2" y="127.5"/><use href="#pent" x="475.6" y="139.8"/><use href="#pent" x="501.5" y="144.1"/><use href="#pent" x="506.6" y="121.8"/><use href="#pent" x="495.5" y="151.3"/><use href="#pent" x="490.7" y="147.0"/><use href="#pent" x="500.0" y="139.3"/><use href="#pent" x="486.3" y="128.1"/><use href="#pent" x="497.7" y="144.2"/><use href="#pent" x="499.0" y="153.0"/><use href="#pent" x="483.7" y="125.1"/><use href="#pent" x="515.4" y="124.6"/><use href="#pent" x="534.1" y="133.1"/><use href="#pent" x="543.6" y="128.8"/><use href="#pent" x="546.4" y="132.1"/><use href="#pent" x="532.0" y="155.4"/><use href="#pent" x="543.3" y="142.4"/><use href="#pent" x="520.4" y="127.2"/><use href="#pent" x="545.5" y="149.4"/><use href="#pent" x="535.9" y="143.3"/><use href="#pent" x="518.3" y="156.4"/><use href="#pent" x="520.5" y="149.7"/><use href="#pent" x="546.2" y="144.7"/><use href="#pent" x="513.7" y="151.4"/><use href="#pent" x="534.7" y="127.0"/><use href="#pent" x="528.3" y="139.7"/><use href="#pent" x="524.4" y="145.1"/><use href="#pent" x="519.9" y="142.6"/><use href="#pent" x="522.2" y="136.4"/><use href="#pent" x="524.1" y="155.3"/><use href="#pent" x="546.1" y="139.5"/><use href="#pent" x="524.0" y="123.7"/><use href="#pent" x="529.9" y="133.3"/><use href="#pent" x="529.4" y="150.2"/><use href="#pent" x="524.4" y="151.5"/><use href="#pent" x="541.9" y="138.9"/><use href="#pent" x="539.4" y="151.2"/><use href="#pent" x="514.9" y="146.3"/><use href="#pent" x="525.4" y="130.2"/><use href="#pent" x="516.7" y="129.7"/><use href="#pent" x="519.1" y="123.7"/><use href="#pent" x="516.1" y="138.6"/><use href="#pent" x="536.7" y="137.6"/><use href="#pent" x="529.4" y="125.3"/><use href="#pent" x="535.5" y="150.7"/><use href="#pent" x="510.7" y="126.8"/><use href="#pent" x="528.2" y="155.7"/><use href="#pent" x="544.4" y="135.7"/><use href="#pent" x="540.5" y="131.7"/><use href="#pent" x="454.6" y="161.6"/><use href="#pent" x="466.9" y="133.6"/><use href="#pent" x="461.5" y="156.0"/><use href="#pent" x="458.5" y="123.9"/><use href="#pent" x="440.8" y="138.7"/><use href="#pent" x="460.9" y="131.6"/><use href="#pent" x="454.0" y="135.1"/><use href="#pent" x="463.7" y="169.0"/><use href="#pent" x="451.2" y="171.9"/><use href="#pent" x="441.7" y="161.9"/><use href="#pent" x="567.4" y="142.0"/><use href="#pent" x="569.7" y="150.9"/><use href="#pent" x="562.4" y="149.7"/><use href="#pent" x="550.5" y="133.1"/><use href="#pent" x="566.1" y="125.1"/><use href="#pent" x="585.7" y="133.5"/><use href="#pent" x="587.9" y="165.8"/><use href="#pent" x="562.2" y="162.7"/><use href="#pent" x="588.8" y="151.4"/><use href="#pent" x="551.3" y="140.8"/><use href="#pent" x="580.1" y="132.8"/><use href="#pent" x="560.8" y="133.5"/><use href="#pent" x="580.9" y="165.4"/><use href="#pent" x="596.7" y="159.6"/><use href="#pent" x="530.0" y="159.0"/><use href="#pent" x="530.0" y="163.8"/><use href="#pent" x="549.5" y="169.0"/><use href="#pent" x="495.0" y="163.0"/><use href="#pent" x="478.5" y="167.0"/><use href="#pent" x="427.7" y="144.5"/><use href="#pent" x="425.4" y="156.0"/><use href="#pent" x="428.6" y="144.6"/><use href="#pent" x="424.9" y="157.2"/><use href="#pent" x="440.5" y="161.0"/><use href="#pent" x="445.3" y="149.0"/><use href="#pent" x="449.0" y="157.2"/><use href="#pent" x="450.9" y="165.0"/><use href="#pent" x="454.6" y="169.5"/><use href="#pent" x="451.6" y="139.7"/><use href="#pent" x="433.0" y="93.0"/><use href="#pent" x="457.7" y="109.0"/><use href="#pent" x="463.0" y="114.0"/><use href="#pent" x="471.0" y="112.5"/><use href="#pent" x="480.8" y="86.0"/><use href="#pent" x="483.5" y="96.0"/><use href="#pent" x="527.9" y="65.6"/><use href="#pent" x="509.7" y="97.7"/><use href="#pent" x="517.4" y="179.0"/><use href="#pent" x="557.7" y="180.7"/><use href="#pent" x="570.3" y="181.3"/><use href="#pent" x="561.0" y="196.2"/><use href="#pent" x="574.3" y="169.7"/><use href="#pent" x="585.2" y="166.4"/><use href="#pent" x="549.5" y="169.0"/><use href="#pent" x="547.4" y="117.0"/><use href="#pent" x="556.6" y="127.7"/><use href="#pent" x="550.2" y="132.0"/><use href="#pent" x="544.5" y="135.0"/><use href="#pent" x="573.4" y="135.0"/><use href="#pent" x="576.3" y="145.0"/><use href="#pent" x="595.0" y="142.0"/><use href="#pent" x="400.0" y="175.9"/><use href="#pent" x="477.7" y="166.9"/><use href="#pent" x="566.7" y="155.8"/>
<use href="#pdia" x="393.1" y="170.7"/><use href="#pdia" x="407.2" y="179.6"/><use href="#pdia" x="386.1" y="183.3"/><use href="#pdia" x="395.8" y="196.6"/><use href="#pdia" x="401.4" y="202.8"/>
<line x1="340.4" y1="106.3" x2="598.8" y2="106.3" stroke="#000" stroke-width="1.2"/>
<line x1="475.0" y1="0.7" x2="475.0" y2="209.2" stroke="#000" stroke-width="1.2"/>
<use href="#ndia" x="347.4" y="203.9"/><use href="#ndia" x="517.4" y="151.3"/><use href="#ndia" x="538.6" y="112.6"/><use href="#ndia" x="577.7" y="128.6"/>
<text x="352.2" y="199.0" font-family="Liberation Sans" font-size="10.3" font-weight="normal" text-anchor="start" fill="#000" >N3</text>
<text x="509.6" y="166.0" font-family="Liberation Sans" font-size="10.3" font-weight="normal" text-anchor="start" fill="#000" >H2</text>
<text x="535.0" y="124.8" font-family="Liberation Sans" font-size="10.3" font-weight="normal" text-anchor="start" fill="#000" >A</text>
<text x="577.6" y="123.8" font-family="Liberation Sans" font-size="10.3" font-weight="normal" text-anchor="start" fill="#000" >Z</text>
<path d="M485.00,100.70 L486.54,104.68 L490.80,104.91 L487.49,107.61 L488.59,111.74 L485.00,109.42 L481.41,111.74 L482.51,107.61 L479.20,104.91 L483.46,104.68 Z" fill="url(#sg)" stroke="#4fcf1a" stroke-width="0.8" stroke-linejoin="miter"/>
<path d="M502.40,120.10 L504.14,124.60 L508.96,124.87 L505.22,127.92 L506.46,132.58 L502.40,129.97 L498.34,132.58 L499.58,127.92 L495.84,124.87 L500.66,124.60 Z" fill="url(#sg)" stroke="#4fcf1a" stroke-width="0.8" stroke-linejoin="miter"/>
<text x="502.2" y="118.8" font-family="Liberation Sans" font-size="10.3" font-weight="normal" text-anchor="start" fill="#000" >#5</text>
<text x="513.4" y="90.2" font-family="Liberation Sans" font-size="10.3" font-weight="normal" text-anchor="start" fill="#000" >#6g</text>
<line x1="514.6" y1="92.4" x2="494" y2="102" stroke="#000" stroke-width="0.9"/>
<polygon points="491.0,103.5 494.8,100.2 495.9,103.6" fill="#000"/>
<rect x="340.4" y="0.7" width="258.4" height="208.5" fill="none" stroke="#000" stroke-width="1.3"/>
<line x1="340.4" y1="203.96" x2="343.0" y2="203.96" stroke="#000" stroke-width="1"/>
<line x1="340.4" y1="199.52" x2="343.0" y2="199.52" stroke="#000" stroke-width="1"/>
<line x1="340.4" y1="195.77" x2="343.0" y2="195.77" stroke="#000" stroke-width="1"/>
<line x1="340.4" y1="192.53" x2="343.0" y2="192.53" stroke="#000" stroke-width="1"/>
<line x1="340.4" y1="189.66" x2="343.0" y2="189.66" stroke="#000" stroke-width="1"/>
<line x1="340.4" y1="187.10" x2="344.7" y2="187.10" stroke="#000" stroke-width="1"/>
<line x1="598.8" y1="187.10" x2="594.8" y2="187.10" stroke="#000" stroke-width="1"/>
<text x="335.0" y="190.8" font-family="Liberation Sans" font-size="10.4" font-weight="normal" text-anchor="end" fill="#000" >10</text>
<line x1="340.4" y1="170.24" x2="343.0" y2="170.24" stroke="#000" stroke-width="1"/>
<line x1="340.4" y1="160.38" x2="343.0" y2="160.38" stroke="#000" stroke-width="1"/>
<line x1="340.4" y1="153.38" x2="343.0" y2="153.38" stroke="#000" stroke-width="1"/>
<line x1="340.4" y1="147.96" x2="343.0" y2="147.96" stroke="#000" stroke-width="1"/>
<line x1="340.4" y1="143.52" x2="343.0" y2="143.52" stroke="#000" stroke-width="1"/>
<line x1="340.4" y1="139.77" x2="343.0" y2="139.77" stroke="#000" stroke-width="1"/>
<line x1="340.4" y1="136.53" x2="343.0" y2="136.53" stroke="#000" stroke-width="1"/>
<line x1="340.4" y1="133.66" x2="343.0" y2="133.66" stroke="#000" stroke-width="1"/>
<line x1="340.4" y1="131.10" x2="344.7" y2="131.10" stroke="#000" stroke-width="1"/>
<line x1="598.8" y1="131.10" x2="594.8" y2="131.10" stroke="#000" stroke-width="1"/>
<text x="335.0" y="134.8" font-family="Liberation Sans" font-size="10.4" font-weight="normal" text-anchor="end" fill="#000" >100</text>
<line x1="340.4" y1="114.24" x2="343.0" y2="114.24" stroke="#000" stroke-width="1"/>
<line x1="340.4" y1="104.38" x2="343.0" y2="104.38" stroke="#000" stroke-width="1"/>
<line x1="340.4" y1="97.38" x2="343.0" y2="97.38" stroke="#000" stroke-width="1"/>
<line x1="340.4" y1="91.96" x2="343.0" y2="91.96" stroke="#000" stroke-width="1"/>
<line x1="340.4" y1="87.52" x2="343.0" y2="87.52" stroke="#000" stroke-width="1"/>
<line x1="340.4" y1="83.77" x2="343.0" y2="83.77" stroke="#000" stroke-width="1"/>
<line x1="340.4" y1="80.53" x2="343.0" y2="80.53" stroke="#000" stroke-width="1"/>
<line x1="340.4" y1="77.66" x2="343.0" y2="77.66" stroke="#000" stroke-width="1"/>
<line x1="340.4" y1="75.10" x2="344.7" y2="75.10" stroke="#000" stroke-width="1"/>
<line x1="598.8" y1="75.10" x2="594.8" y2="75.10" stroke="#000" stroke-width="1"/>
<text x="335.0" y="78.8" font-family="Liberation Sans" font-size="10.4" font-weight="normal" text-anchor="end" fill="#000" >1000</text>
<line x1="340.4" y1="58.24" x2="343.0" y2="58.24" stroke="#000" stroke-width="1"/>
<line x1="340.4" y1="48.38" x2="343.0" y2="48.38" stroke="#000" stroke-width="1"/>
<line x1="340.4" y1="41.38" x2="343.0" y2="41.38" stroke="#000" stroke-width="1"/>
<line x1="340.4" y1="35.96" x2="343.0" y2="35.96" stroke="#000" stroke-width="1"/>
<line x1="340.4" y1="31.52" x2="343.0" y2="31.52" stroke="#000" stroke-width="1"/>
<line x1="340.4" y1="27.77" x2="343.0" y2="27.77" stroke="#000" stroke-width="1"/>
<line x1="340.4" y1="24.53" x2="343.0" y2="24.53" stroke="#000" stroke-width="1"/>
<line x1="340.4" y1="21.66" x2="343.0" y2="21.66" stroke="#000" stroke-width="1"/>
<line x1="340.4" y1="19.10" x2="344.7" y2="19.10" stroke="#000" stroke-width="1"/>
<line x1="598.8" y1="19.10" x2="594.8" y2="19.10" stroke="#000" stroke-width="1"/>
<text x="335.0" y="22.8" font-family="Liberation Sans" font-size="10.4" font-weight="normal" text-anchor="end" fill="#000" >10000</text>
<line x1="340.4" y1="2.24" x2="343.0" y2="2.24" stroke="#000" stroke-width="1"/>
<line x1="347.10" y1="209.2" x2="347.10" y2="204.9" stroke="#000" stroke-width="1"/>
<line x1="347.10" y1="0.7" x2="347.10" y2="4.7" stroke="#000" stroke-width="1"/>
<text x="347.1" y="223.0" font-family="Liberation Sans" font-size="10.4" font-weight="normal" text-anchor="middle" fill="#000" >1</text>
<line x1="366.82" y1="209.2" x2="366.82" y2="206.6" stroke="#000" stroke-width="1"/>
<line x1="378.35" y1="209.2" x2="378.35" y2="206.6" stroke="#000" stroke-width="1"/>
<line x1="386.53" y1="209.2" x2="386.53" y2="206.6" stroke="#000" stroke-width="1"/>
<line x1="392.88" y1="209.2" x2="392.88" y2="206.6" stroke="#000" stroke-width="1"/>
<line x1="398.07" y1="209.2" x2="398.07" y2="206.6" stroke="#000" stroke-width="1"/>
<line x1="402.45" y1="209.2" x2="402.45" y2="206.6" stroke="#000" stroke-width="1"/>
<line x1="406.25" y1="209.2" x2="406.25" y2="206.6" stroke="#000" stroke-width="1"/>
<line x1="409.60" y1="209.2" x2="409.60" y2="206.6" stroke="#000" stroke-width="1"/>
<line x1="412.60" y1="209.2" x2="412.60" y2="204.9" stroke="#000" stroke-width="1"/>
<line x1="412.60" y1="0.7" x2="412.60" y2="4.7" stroke="#000" stroke-width="1"/>
<text x="412.6" y="223.0" font-family="Liberation Sans" font-size="10.4" font-weight="normal" text-anchor="middle" fill="#000" >10</text>
<line x1="432.32" y1="209.2" x2="432.32" y2="206.6" stroke="#000" stroke-width="1"/>
<line x1="443.85" y1="209.2" x2="443.85" y2="206.6" stroke="#000" stroke-width="1"/>
<line x1="452.03" y1="209.2" x2="452.03" y2="206.6" stroke="#000" stroke-width="1"/>
<line x1="458.38" y1="209.2" x2="458.38" y2="206.6" stroke="#000" stroke-width="1"/>
<line x1="463.57" y1="209.2" x2="463.57" y2="206.6" stroke="#000" stroke-width="1"/>
<line x1="467.95" y1="209.2" x2="467.95" y2="206.6" stroke="#000" stroke-width="1"/>
<line x1="471.75" y1="209.2" x2="471.75" y2="206.6" stroke="#000" stroke-width="1"/>
<line x1="475.10" y1="209.2" x2="475.10" y2="206.6" stroke="#000" stroke-width="1"/>
<line x1="478.10" y1="209.2" x2="478.10" y2="204.9" stroke="#000" stroke-width="1"/>
<line x1="478.10" y1="0.7" x2="478.10" y2="4.7" stroke="#000" stroke-width="1"/>
<text x="478.1" y="223.0" font-family="Liberation Sans" font-size="10.4" font-weight="normal" text-anchor="middle" fill="#000" >100</text>
<line x1="497.82" y1="209.2" x2="497.82" y2="206.6" stroke="#000" stroke-width="1"/>
<line x1="509.35" y1="209.2" x2="509.35" y2="206.6" stroke="#000" stroke-width="1"/>
<line x1="517.53" y1="209.2" x2="517.53" y2="206.6" stroke="#000" stroke-width="1"/>
<line x1="523.88" y1="209.2" x2="523.88" y2="206.6" stroke="#000" stroke-width="1"/>
<line x1="529.07" y1="209.2" x2="529.07" y2="206.6" stroke="#000" stroke-width="1"/>
<line x1="533.45" y1="209.2" x2="533.45" y2="206.6" stroke="#000" stroke-width="1"/>
<line x1="537.25" y1="209.2" x2="537.25" y2="206.6" stroke="#000" stroke-width="1"/>
<line x1="540.60" y1="209.2" x2="540.60" y2="206.6" stroke="#000" stroke-width="1"/>
<line x1="543.60" y1="209.2" x2="543.60" y2="204.9" stroke="#000" stroke-width="1"/>
<line x1="543.60" y1="0.7" x2="543.60" y2="4.7" stroke="#000" stroke-width="1"/>
<text x="543.6" y="223.0" font-family="Liberation Sans" font-size="10.4" font-weight="normal" text-anchor="middle" fill="#000" >1000</text>
<line x1="563.32" y1="209.2" x2="563.32" y2="206.6" stroke="#000" stroke-width="1"/>
<line x1="574.85" y1="209.2" x2="574.85" y2="206.6" stroke="#000" stroke-width="1"/>
<line x1="583.03" y1="209.2" x2="583.03" y2="206.6" stroke="#000" stroke-width="1"/>
<line x1="589.38" y1="209.2" x2="589.38" y2="206.6" stroke="#000" stroke-width="1"/>
<line x1="594.57" y1="209.2" x2="594.57" y2="206.6" stroke="#000" stroke-width="1"/>
<text x="454" y="241.2" font-family="Liberation Sans" font-size="13.2" fill="#000"><tspan font-size="8" dy="-6">12</tspan><tspan dy="6" dx="-1.2">C/</tspan><tspan font-size="8" dy="-6" dx="0.6">13</tspan><tspan dy="6" dx="0">C</tspan></text>
<text transform="translate(315.6,129.1) rotate(-90)" x="0" y="0" font-family="Liberation Sans" font-size="14" fill="#000"><tspan font-size="8.6" dy="-6.3">14</tspan><tspan dy="6.3" dx="0.3">N/</tspan><tspan font-size="8.6" dy="-6.3" dx="0.3">15</tspan><tspan dy="6.3" dx="0.3">N</tspan></text>
</svg>
</body></html>
